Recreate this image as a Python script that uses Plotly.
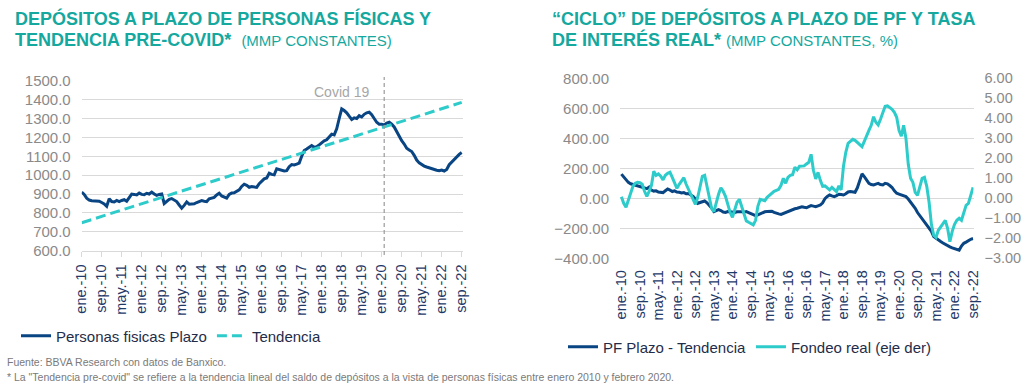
import plotly.graph_objects as go

# ---------------- DATA ----------------
month_abbr = ["ene.", "feb.", "mar.", "abr.", "may.", "jun.", "jul.", "ago.", "sep.", "oct.", "nov.", "dic."]
n_months = 153  # ene-2010 .. sep-2022
categories = [f"{month_abbr[i % 12]}-{10 + i // 12}" for i in range(n_months)]
tick_labels = categories[::8]

# Left chart: Personas fisicas Plazo (MMP constantes)
personas_fisicas_plazo = [
    910, 898, 878, 868, 865, 864, 865, 862, 855, 848,
    835, 875, 860, 858, 866, 860, 866, 870, 862, 878,
    900, 898, 895, 905, 898, 896, 904, 900, 910, 900,
    893, 898, 900, 850, 862, 872, 876, 866, 860, 842,
    825, 840, 858, 846, 845, 848, 855, 860, 865, 862,
    860, 875, 880, 882, 895, 904, 890, 885, 878, 898,
    905, 906, 912, 922, 940, 952, 946, 936, 940, 938,
    935, 955, 970, 980, 985, 1010, 1004, 1002, 1034, 1030,
    1023, 1022, 1024, 1045, 1056, 1054, 1058, 1064, 1100, 1130,
    1138, 1148, 1157, 1148, 1150, 1160, 1172, 1182, 1187, 1205,
    1217, 1213, 1245, 1300, 1351, 1342, 1330, 1312, 1295, 1303,
    1300, 1315, 1308, 1322, 1330, 1333, 1320, 1300, 1280, 1270,
    1270, 1266, 1276, 1280, 1270, 1255, 1230, 1204, 1182, 1165,
    1142, 1133, 1125, 1105, 1080, 1065, 1055, 1048, 1043, 1038,
    1034, 1030, 1026, 1023, 1027, 1022, 1030, 1055, 1070, 1082,
    1098, 1110, 1120,
]
# Linear pre-covid trend: start (ene-10) and end (sep-22) values
tendencia_x = [categories[0], categories[-1]]
tendencia_y = [748, 1385]
covid_category = "feb.-20"

# Right chart: PF Plazo - Tendencia (left axis)
pf_plazo_menos_tendencia = [
    161, 140, 120, 106, 97, 92, 88, 86, 80, 76,
    72, 64, 75, 55, 48, 50, 42, 40, 38, 50,
    62, 55, 45, 50, 42, 40, 35, 38, 30, 32,
    22, 12, -5, -34, -28, -22, -18, -30, -45, -65,
    -89, -85, -76, -82, -92, -94, -88, -90, -92, -95,
    -90, -88, -90, -92, -89, -95, -101, -108, -116, -110,
    -102, -96, -90, -88, -85, -86, -94, -101, -104, -107,
    -100, -94, -88, -80, -76, -70, -66, -60, -56, -60,
    -63, -55, -49, -52, -56, -50, -45, -30, -2, 12,
    22, 16, 11, 18, 27, 25, 22, 30, 42, 45,
    40, 40, 70, 120, 163, 145, 125, 100, 92, 89,
    95, 100, 92, 89, 100, 96, 85, 72, 50, 34,
    28, 22, 18, 11, -5, -25, -48, -67, -95, -116,
    -138, -155, -175, -195, -220, -255, -268, -280, -288, -298,
    -308, -316, -324, -330, -335, -340, -346, -318, -300, -292,
    -280, -273, -268,
]
# Right chart: Fondeo real (right axis, %)
fondeo_real = [
    0.08, -0.25, -0.45, -0.1, 0.3, 0.6, 0.75, 0.8, 0.78, 0.7,
    0.35, 0.1, 0.35, 0.65, 1.35, 1.15, 1.22, 1.1, 0.92, 1.15,
    1.25, 1.3, 1.05, 0.8, 0.5, 0.7, 0.85, 1.03, 0.7, 0.45,
    0.15, -0.08, -0.3, 0.05, 0.6, 1.1, 1.15, 0.55, 0.0, -0.5,
    -0.67, -0.2, 0.2, 0.53, 0.35, 0.1, -0.3, -0.7, -0.95, -0.55,
    -0.2, -0.05, -0.4, -0.85, -1.13, -1.2, -1.28, -1.33, -1.1, -0.4,
    -0.05, -0.1, -0.12, 0.05, 0.15, 0.25, 0.35, 0.4, 0.45, 0.65,
    1.0, 0.75, 1.05, 1.15, 1.18, 1.55, 1.42, 1.6, 1.6, 1.62,
    1.72, 1.8, 2.2, 1.4, 0.97, 1.3, 0.9, 0.6, 0.62, 0.5,
    0.42, 0.55, 0.45, 0.33, 0.62, 0.42, 1.6, 2.3, 2.75, 2.85,
    2.95, 2.9, 2.8, 2.7, 2.58, 2.85, 3.17, 3.4, 3.65, 4.08,
    3.8, 3.67, 3.95, 4.3, 4.6, 4.62, 4.55, 4.45, 4.3, 4.05,
    3.4, 3.1, 3.65, 3.0, 1.7, 1.0, 0.8, 0.3, 0.15, 0.6,
    1.0, 1.05, 0.6, -0.2, -1.3, -1.85, -1.95, -1.6, -1.45, -1.3,
    -1.1, -1.5, -2.17, -1.65, -1.3, -1.1, -1.0, -1.1, -0.7, -0.35,
    -0.25, 0.15, 0.55,
]

left_yticks = [600, 700, 800, 900, 1000, 1100, 1200, 1300, 1400, 1500]
right_left_yticks = [-400, -200, 0, 200, 400, 600, 800]
right_right_yticks = [-3, -2, -1, 0, 1, 2, 3, 4, 5, 6]

# ---------------- STYLE ----------------
W, H = 1024, 391
NAVY = "#0a4583"
AQUA = "#2ECBCB"
TEAL = "#14A89E"
GRID = "#d9d9d9"
TICKGRAY = "#8a8a8a"
XTICK = "#1f3a68"
LEGTXT = "#1f2d4a"
FONT = "Liberation Sans, Arial, sans-serif"


def px_x(p):
    return p / W


def px_y(p):
    return 1 - p / H


fig = go.Figure()

# Left chart
fig.add_trace(go.Scatter(x=categories, y=personas_fisicas_plazo, mode="lines",
                         name="Personas fisicas Plazo", line=dict(color=NAVY, width=3),
                         xaxis="x", yaxis="y", legend="legend"))
fig.add_trace(go.Scatter(x=tendencia_x, y=tendencia_y, mode="lines", name="Tendencia",
                         line=dict(color=AQUA, width=3, dash="10px,5px"),
                         xaxis="x", yaxis="y", legend="legend"))

# Right chart
fig.add_trace(go.Scatter(x=categories, y=pf_plazo_menos_tendencia, mode="lines",
                         name="PF Plazo - Tendencia", line=dict(color=NAVY, width=3),
                         xaxis="x2", yaxis="y2", legend="legend2"))
fig.add_trace(go.Scatter(x=categories, y=fondeo_real, mode="lines",
                         name="Fondeo real (eje der)", line=dict(color=AQUA, width=3),
                         xaxis="x2", yaxis="y3", legend="legend2"))

tick_font = dict(family=FONT, size=15, color=TICKGRAY)
xtick_font = dict(family=FONT, size=14.5, color=XTICK)

fig.update_layout(
    width=W, height=H,
    margin=dict(l=0, r=0, t=0, b=0, autoexpand=False),
    paper_bgcolor="white", plot_bgcolor="white",
    font=dict(family=FONT),
    xaxis=dict(domain=[px_x(81.7), px_x(462.7)], type="category", range=[0, 152.4],
               tickmode="array", tickvals=tick_labels, tickangle=-90, tickfont=xtick_font,
               ticks="outside", ticklen=5, tickcolor=GRID, showline=True, linecolor=GRID,
               showgrid=False, anchor="y", ticklabelstandoff=2, automargin=False),
    yaxis=dict(domain=[px_y(250.7), px_y(80.7)], range=[600, 1500], tickvals=left_yticks,
               tickformat=".1f", tickfont=tick_font, gridcolor=GRID, gridwidth=1,
               zeroline=False, showline=False, anchor="x", ticklabelstandoff=10,
               automargin=False),
    xaxis2=dict(domain=[px_x(620), px_x(973.5)], type="category", range=[-0.6, 152.2],
                tickmode="array", tickvals=tick_labels, tickangle=-90, tickfont=xtick_font,
                ticks="", showline=False, showgrid=False, anchor="y2", ticklabelstandoff=8,
                automargin=False),
    yaxis2=dict(domain=[px_y(258.3), px_y(78.3)], range=[-400, 800], tickvals=right_left_yticks,
                tickformat=".2f", tickfont=tick_font, gridcolor=GRID, gridwidth=1,
                zeroline=False, anchor="x2", ticklabelstandoff=10, automargin=False),
    yaxis3=dict(range=[-3, 6], tickvals=right_right_yticks, tickformat=".2f",
                tickfont=dict(family=FONT, size=14.5, color=TICKGRAY),
                overlaying="y2", side="right", anchor="x2", showgrid=False, zeroline=False,
                ticklabelstandoff=10, automargin=False),
    legend=dict(orientation="h", x=px_x(16), y=px_y(336), xanchor="left", yanchor="middle",
                font=dict(family=FONT, size=15, color=LEGTXT), bgcolor="rgba(0,0,0,0)",
                itemwidth=30, tracegroupgap=0),
    legend2=dict(orientation="h", x=px_x(563), y=px_y(347), xanchor="left", yanchor="middle",
                 font=dict(family=FONT, size=15, color=LEGTXT), bgcolor="rgba(0,0,0,0)",
                 itemwidth=30),
    showlegend=True,
)

covid_idx = categories.index(covid_category)
fig.add_shape(type="line", xref="x", yref="paper", x0=covid_idx, x1=covid_idx,
              y0=px_y(255), y1=px_y(77), line=dict(color="#9a9a9a", width=1.2, dash="4px,3px"))

annotations = [
    dict(text="<b>DEPÓSITOS A PLAZO DE PERSONAS FÍSICAS Y</b>", x=px_x(13), y=px_y(18.5),
         size=18),
    dict(text="<b>TENDENCIA PRE-COVID*</b>\u00a0\u00a0<span style='font-size:15px'>(MMP CONSTANTES)</span>",
         x=px_x(13), y=px_y(39.5), size=18),
    dict(text="<b>“CICLO” DE DEPÓSITOS A PLAZO DE PF Y TASA</b>", x=px_x(550), y=px_y(18.5),
         size=18),
    dict(text="<b>DE INTERÉS REAL*</b> <span style='font-size:15px'>(MMP CONSTANTES, %)</span>",
         x=px_x(550), y=px_y(39.5), size=18),
]
for a in annotations:
    fig.add_annotation(text=a["text"], xref="paper", yref="paper", x=a["x"], y=a["y"],
                       xanchor="left", yanchor="middle", showarrow=False,
                       font=dict(family=FONT, size=a["size"], color=TEAL))

fig.add_annotation(text="Covid 19", xref="x", yref="paper", x=covid_idx, y=px_y(92.3),
                   xanchor="right", yanchor="middle", xshift=-13, showarrow=False,
                   font=dict(family=FONT, size=14, color="#a6a6a6"))

NOTE_FONT = "Liberation Sans, Arial, sans-serif"
fig.add_annotation(text="Fuente: BBVA Research con datos de Banxico.", xref="paper", yref="paper",
                   x=px_x(5), y=px_y(362), xanchor="left", yanchor="middle", showarrow=False,
                   font=dict(family=NOTE_FONT, size=10.5, color="#7a7a7a"))
fig.add_annotation(text="* La \"Tendencia pre-covid\" se refiere a la tendencia lineal del saldo de depósitos a la vista de personas físicas entre enero 2010 y febrero 2020.",
                   xref="paper", yref="paper",
                   x=px_x(5), y=px_y(377), xanchor="left", yanchor="middle", showarrow=False,
                   font=dict(family=NOTE_FONT, size=10.5, color="#7a7a7a"))

fig.write_html("out.html", config={"displayModeBar": False},
               post_script="document.body.style.margin='0';document.body.style.overflow='hidden';")
